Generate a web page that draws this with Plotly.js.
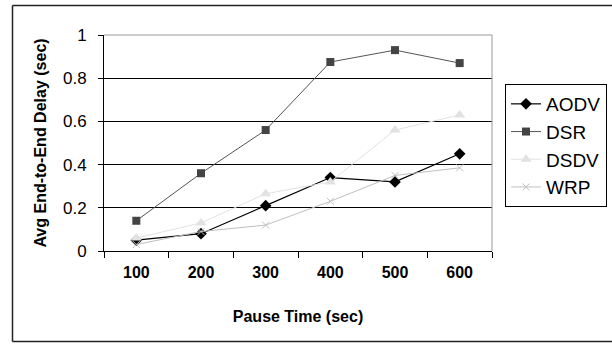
<!DOCTYPE html>
<html>
<head>
<meta charset="utf-8">
<script src="https://cdn.plot.ly/plotly-3.0.1.min.js"></script>
<style>html,body{margin:0;padding:0;background:#fff;overflow:hidden;}#chart{width:612px;height:345px;}</style>
</head>
<body>
<div id="chart"></div>
<script>
var pauseTimes = ["100", "200", "300", "400", "500", "600"];
var aodv = [0.05, 0.08, 0.21, 0.34, 0.32, 0.45];
var dsr  = [0.14, 0.36, 0.56, 0.875, 0.93, 0.87];
var dsdv = [0.06, 0.13, 0.265, 0.32, 0.56, 0.63];
var wrp  = [0.03, 0.09, 0.12, 0.23, 0.35, 0.385];
var yTicks = [0, 0.2, 0.4, 0.6, 0.8, 1];

var traces = [
  {name: "AODV", x: pauseTimes, y: aodv, type: "scatter", mode: "lines+markers",
   line: {color: "#000000", width: 1.2}, marker: {symbol: "diamond", size: 9, color: "#000000"}},
  {name: "DSR", x: pauseTimes, y: dsr, type: "scatter", mode: "lines+markers",
   line: {color: "#555555", width: 1}, marker: {symbol: "square", size: 8, color: "#444444"}},
  {name: "DSDV", x: pauseTimes, y: dsdv, type: "scatter", mode: "lines+markers",
   line: {color: "#e2e2e2", width: 1}, marker: {symbol: "triangle-up", size: 10, color: "#e2e2e2"}},
  {name: "WRP", x: pauseTimes, y: wrp, type: "scatter", mode: "lines+markers",
   line: {color: "#c0c0c0", width: 1}, marker: {symbol: "x-thin", size: 7, color: "#c0c0c0", line: {color: "#c0c0c0", width: 1}}}
];

var L = 104, R = 492, T = 35, B = 251;
var pw = R - L, ph = B - T;
function px2x(p) { return (p - L) / pw; }
function py2y(p) { return (B - p) / ph; }

var borderLine = {color: "#222222", width: 1.5};

var layout = {
  width: 612, height: 345,
  margin: {l: L, r: 612 - R, t: T, b: 345 - B, pad: 0, autoexpand: false},
  paper_bgcolor: "#ffffff", plot_bgcolor: "#ffffff",
  font: {family: "Liberation Sans, Arial, sans-serif", color: "#000000"},
  showlegend: true,
  legend: {
    x: px2x(505), y: py2y(84), xanchor: "left", yanchor: "top",
    bordercolor: "#000000", borderwidth: 1, bgcolor: "#ffffff",
    font: {size: 19, color: "#000000"}, tracegroupgap: 0,
    entrywidth: 62, entrywidthmode: "pixels"
  },
  xaxis: {
    type: "category", range: [-0.5, 5.5], tickson: "boundaries",
    showline: true, linecolor: "#000000", linewidth: 1,
    ticks: "outside", ticklen: 6, tickcolor: "#000000",
    showgrid: false, zeroline: false, ticklabelstandoff: 7,
    tickfont: {size: 16, color: "#000000", family: "Liberation Sans, Arial, sans-serif", weight: "bold"},
    title: {text: "<b>Pause Time (sec)</b>", font: {size: 16}, standoff: 30}
  },
  yaxis: {
    range: [0, 1], tickvals: yTicks, ticktext: yTicks.map(String),
    showline: true, linecolor: "#000000", linewidth: 1,
    ticks: "outside", ticklen: 5, tickcolor: "#000000",
    showgrid: true, gridcolor: "#000000", gridwidth: 1, zeroline: false,
    ticklabelstandoff: 8,
    tickfont: {size: 17},
    title: {text: "<b>Avg End-to-End Delay (sec)</b>", font: {size: 16}, standoff: 12}
  },
  shapes: [
    {type: "line", xref: "paper", yref: "paper", x0: 0, x1: 1, y0: 1, y1: 1,
     line: {color: "#9a9a9a", width: 1}, layer: "above"},
    {type: "line", xref: "paper", yref: "paper", x0: 1, x1: 1, y0: 0, y1: 1,
     line: {color: "#9a9a9a", width: 1}, layer: "above"},
    {type: "line", xref: "paper", yref: "paper", x0: px2x(12.5), x1: px2x(612), y0: py2y(5.5), y1: py2y(5.5),
     line: borderLine, layer: "below"},
    {type: "line", xref: "paper", yref: "paper", x0: px2x(12.5), x1: px2x(612), y0: py2y(341.5), y1: py2y(341.5),
     line: borderLine, layer: "below"},
    {type: "line", xref: "paper", yref: "paper", x0: px2x(12.5), x1: px2x(12.5), y0: py2y(5.5), y1: py2y(341.5),
     line: borderLine, layer: "below"}
  ]
};

Plotly.newPlot("chart", traces, layout, {staticPlot: true, displayModeBar: false});
</script>
</body>
</html>
